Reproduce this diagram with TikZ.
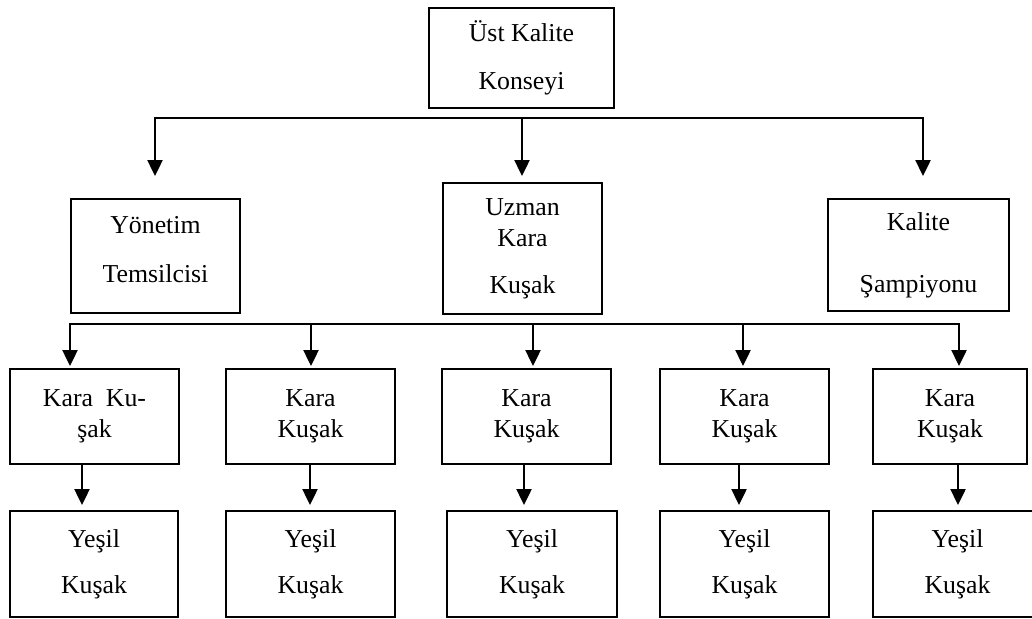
\documentclass[tikz,border=0pt]{standalone}
\usepackage{fontspec}
\setmainfont{Liberation Serif}
\usetikzlibrary{arrows.meta}

\begin{document}
\begin{tikzpicture}[x=0.5pt,y=-0.5pt]

		\tikzstyle{every node}=[font=\fontsize{12.9}{15.5}\selectfont]
		\tikzstyle{box}=[draw, line width=1.4pt, inner sep=0pt, align=center]
		\tikzstyle{bus}=[line width=1.2pt, line cap=rect]
		\tikzstyle{arr}=[line width=1.2pt, -{Triangle[width=7.5pt,length=8pt]}]

		\useasboundingbox (0,0) rectangle (1032,618);

		% konsey
		\node[box, minimum width=92.5pt, minimum height=50pt] (ust) at (521.5,58) {Üst Kalite\\[8.5pt]Konseyi};

		% ikinci sira
		\node[box, minimum width=84.5pt, minimum height=57pt, text depth=7pt] (yonetim) at (155.5,256) {Yönetim\\[9pt]Temsilcisi};
		\node[box, minimum width=79.5pt, minimum height=65.5pt] (uzman) at (522.5,248.5) {Uzman\\Kara\\[8pt]Kuşak};
		\node[box, minimum width=90.5pt, minimum height=56pt] (kalite) at (918.5,255) {Kalite\\[15.5pt]Şampiyonu};

		% kara kusaklar
		\node[box, minimum width=84.5pt, minimum height=47.5pt] (kara1) at (94.5,416.5) {Kara~~Ku-\\şak};
		\node[box, minimum width=84.5pt, minimum height=47.5pt] (kara2) at (310.5,416.5) {Kara\\Kuşak};
		\node[box, minimum width=84.5pt, minimum height=47.5pt] (kara3) at (526.5,416.5) {Kara\\Kuşak};
		\node[box, minimum width=84.5pt, minimum height=47.5pt] (kara4) at (744.5,416.5) {Kara\\Kuşak};
		\node[box, minimum width=77pt, minimum height=47.5pt] (kara5) at (950,416.5) {Kara\\Kuşak};

		% yesil kusaklar
		\node[box, minimum width=84pt, minimum height=53pt] (yesil1) at (94,564) {Yeşil\\[7.5pt]Kuşak};
		\node[box, minimum width=84.5pt, minimum height=53pt] (yesil2) at (310.5,564) {Yeşil\\[7.5pt]Kuşak};
		\node[box, minimum width=85pt, minimum height=53pt] (yesil3) at (532,564) {Yeşil\\[7.5pt]Kuşak};
		\node[box, minimum width=84.5pt, minimum height=53pt] (yesil4) at (744.5,564) {Yeşil\\[7.5pt]Kuşak};
		\node[box, minimum width=84.5pt, minimum height=53pt] (yesil5) at (957.5,564) {Yeşil\\[7.5pt]Kuşak};

		% ust hat
		\coordinate (u1) at (155,176);
		\coordinate (u2) at (522,176);
		\coordinate (u3) at (923,176);
		\coordinate (hat1) at (0,118);
		\draw[bus] (u1 |- hat1) -- (u3 |- hat1);
		\draw[arr] (u1 |- hat1) -- (u1);
		\draw[arr] (u2 |- hat1) -- (u2);
		\draw[arr] (u3 |- hat1) -- (u3);

		% alt hat
		\coordinate (k1) at (70,366);
		\coordinate (k2) at (311,366);
		\coordinate (k3) at (533,366);
		\coordinate (k4) at (743,366);
		\coordinate (k5) at (959,366);
		\coordinate (hat2) at (0,324);
		\draw[bus] (k1 |- hat2) -- (k5 |- hat2);
		\draw[arr] (k1 |- hat2) -- (k1);
		\draw[arr] (k2 |- hat2) -- (k2);
		\draw[arr] (k3 |- hat2) -- (k3);
		\draw[arr] (k4 |- hat2) -- (k4);
		\draw[arr] (k5 |- hat2) -- (k5);

		% kara -> yesil
		\coordinate (y1) at (82,505);
		\coordinate (y2) at (310,505);
		\coordinate (y3) at (524,505);
		\coordinate (y4) at (739,505);
		\coordinate (y5) at (958,505);
		\draw[arr] (y1 |- kara1.south) -- (y1);
		\draw[arr] (y2 |- kara2.south) -- (y2);
		\draw[arr] (y3 |- kara3.south) -- (y3);
		\draw[arr] (y4 |- kara4.south) -- (y4);
		\draw[arr] (y5 |- kara5.south) -- (y5);

\end{tikzpicture}
\end{document}
